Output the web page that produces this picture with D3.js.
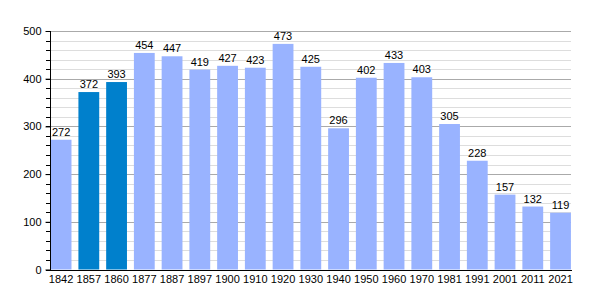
<!DOCTYPE html>
<html>
<head>
<meta charset="utf-8">
<script src="https://cdn.jsdelivr.net/npm/d3@7"></script>
<style>
  body { margin: 0; background: #fff; }
  text { font-family: "Liberation Sans", Arial, sans-serif; font-size: 11px; fill: #000; }
</style>
</head>
<body>
<script>
const years = ['1842', '1857', '1860', '1877', '1887', '1897', '1900', '1910', '1920', '1930',
               '1940', '1950', '1960', '1970', '1981', '1991', '2001', '2011', '2021'];
const population = [272, 372, 393, 454, 447, 419, 427, 423, 473, 425,
                    296, 402, 433, 403, 305, 228, 157, 132, 119];
const highlighted = ['1857', '1860'];
const majorTicks = [0, 100, 200, 300, 400, 500];
const minorTicks = d3.range(0, 501, 20);

const width = 600;
const height = 300;
const plotLeft = 50;
const plotRight = 571;
const plotTop = 31;
const plotBottom = 269.5;

const svg = d3.select('body')
              .append('svg')
              .attr('width', width)
              .attr('height', height);

const xScale = d3.scaleBand()
                 .domain(years)
                 .range([47.2, 574.4])
                 .paddingInner(0.25)
                 .paddingOuter(0.125);

const yScale = d3.scaleLinear()
                 .domain([0, 500])
                 .range([plotBottom, plotTop]);

const py = (d) => Math.round(yScale(d)) + 0.5;

// minor grid
svg.selectAll('line.minor')
   .data(minorTicks.filter((t) => t % 100 !== 0))
   .enter()
   .append('line')
   .attr('class', 'minor')
   .attr('x1', plotLeft).attr('x2', plotRight)
   .attr('y1', py).attr('y2', py)
   .attr('stroke', '#dddddd');

// major grid
svg.selectAll('line.major')
   .data(majorTicks.filter((t) => t > 0))
   .enter()
   .append('line')
   .attr('class', 'major')
   .attr('x1', plotLeft).attr('x2', plotRight)
   .attr('y1', py).attr('y2', py)
   .attr('stroke', '#aaaaaa');

svg.selectAll('rect.bar')
   .data(years)
   .enter()
   .append('rect')
   .attr('class', 'bar')
   .attr('x', (d) => xScale(d))
   .attr('width', xScale.bandwidth())
   .attr('y', (d, i) => yScale(population[i]))
   .attr('height', (d, i) => plotBottom - yScale(population[i]))
   .attr('fill', (d) => highlighted.includes(d) ? '#0080cc' : '#99b3ff');

svg.selectAll('text.value')
   .data(years)
   .enter()
   .append('text')
   .attr('class', 'value')
   .attr('x', (d) => xScale(d) + xScale.bandwidth() / 2)
   .attr('y', (d, i) => yScale(population[i]) - 4)
   .attr('text-anchor', 'middle')
   .text((d, i) => population[i]);

// minor y ticks
svg.selectAll('line.ytick')
   .data(minorTicks)
   .enter()
   .append('line')
   .attr('class', 'ytick')
   .attr('x1', plotLeft - 4).attr('x2', plotLeft)
   .attr('y1', py).attr('y2', py)
   .attr('stroke', '#000');

const yAxis = d3.axisLeft(yScale)
                .tickValues(majorTicks)
                .tickSize(5)
                .tickPadding(4);
const yG = svg.append('g')
              .attr('transform', 'translate(' + (plotLeft + 0.5) + ',0)')
              .call(yAxis);
yG.select('.domain').remove();
yG.attr('font-family', null).attr('font-size', null);

svg.append('line')
   .attr('x1', plotLeft + 0.5).attr('x2', plotLeft + 0.5)
   .attr('y1', plotTop).attr('y2', plotBottom + 1)
   .attr('stroke', '#000');

const xAxis = d3.axisBottom(xScale).tickSize(0).tickPadding(5);
const xG = svg.append('g')
              .attr('transform', 'translate(0,' + (Math.round(plotBottom) + 0.5) + ')')
              .call(xAxis);
xG.select('.domain').remove();
xG.attr('font-family', null).attr('font-size', null);

svg.append('line')
   .attr('x1', plotLeft).attr('x2', plotRight + 1)
   .attr('y1', Math.round(plotBottom) + 0.5).attr('y2', Math.round(plotBottom) + 0.5)
   .attr('stroke', '#000');
</script>
</body>
</html>
